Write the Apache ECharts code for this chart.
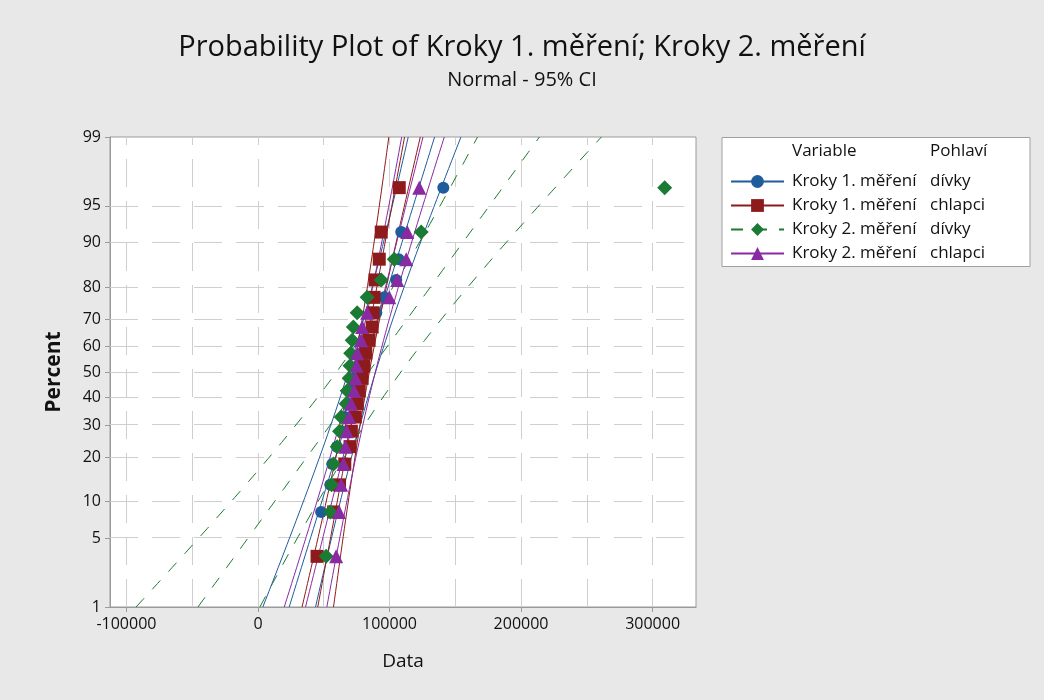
<!DOCTYPE html>
<html><head><meta charset="utf-8">
<script src="https://cdn.jsdelivr.net/npm/echarts@6/dist/echarts.min.js"></script>
<style>html,body{margin:0;padding:0;background:#e8e8e8}#c{width:1044px;height:700px}</style>
</head><body><div id="c"></div>
<script>
// ---- axis ticks ----
const percentTicks = [1, 5, 10, 20, 30, 40, 50, 60, 70, 80, 90, 95, 99];
const dataTicks = [-100000, 0, 100000, 200000, 300000];
const dataGrid = [-100000, -50000, 0, 50000, 100000, 150000, 200000, 250000, 300000];

// ---- plotting positions (percent) of the 20 ranked points ----
const plotPercents = [3.4, 8.3, 13.2, 18.1, 23.0, 27.9, 32.8, 37.7, 42.6, 47.5,
                      52.5, 57.4, 62.3, 67.2, 72.1, 77.0, 81.9, 86.8, 91.7, 96.6];

// ---- variables / groups ----
const variables = ['Kroky 1. měření', 'Kroky 1. měření', 'Kroky 2. měření', 'Kroky 2. měření'];
const genders = ['dívky', 'chlapci', 'dívky', 'chlapci'];

// ---- sorted data values (steps) ----
const kroky1Divky = [47000, 48000, 55000, 56500, 60000, 63500, 66000, 68500, 71000, 73000,
                     76000, 79000, 82000, 86500, 90000, 96000, 105100, 107000, 108900, 140900];
const kroky1Chlapci = [44900, 57500, 62000, 66000, 70000, 71000, 74000, 75500, 77000, 79200,
                       80500, 82000, 84500, 86800, 87500, 88300, 89000, 92200, 93700, 107400];
const kroky2Divky = [51800, 55000, 56000, 57500, 60200, 62000, 63200, 67000, 67800, 69300,
                     70000, 70500, 71600, 72500, 75400, 83000, 93700, 103600, 124100, 309200];
const kroky2Chlapci = [59400, 61700, 63200, 65000, 66500, 67500, 69300, 70800, 73100, 74200,
                       75000, 75400, 78400, 79200, 83000, 99800, 105900, 112700, 113500, 122600];

const allData = [kroky1Divky, kroky1Chlapci, kroky2Divky, kroky2Chlapci];
const colors = ['#1f5c9b', '#8e1b1b', '#1b7a33', '#8a2aa3'];
const symbols = ['circle', 'rect', 'diamond', 'triangle'];
const symbolSizes = [12, 13, 15, 14];
const lineTypes = ['solid', 'solid', [12, 12], 'solid'];

// inverse standard normal CDF (axis transform)
function probit(p) {
  const a = [-3.969683028665376e+01, 2.209460984245205e+02, -2.759285104469687e+02, 1.383577518672690e+02, -3.066479806614716e+01, 2.506628277459239e+00];
  const b = [-5.447609879822406e+01, 1.615858368580409e+02, -1.556989798598866e+02, 6.680131188771972e+01, -1.328068155288572e+01];
  const c = [-7.784894002430293e-03, -3.223964580411365e-01, -2.400758277161838e+00, -2.549732539343734e+00, 4.374664141464968e+00, 2.938163982698783e+00];
  const d = [7.784695709041462e-03, 3.224671290700398e-01, 2.445134137142996e+00, 3.754408661907416e+00];
  const pl = 0.02425, ph = 1 - pl;
  let q, r;
  if (p < pl) { q = Math.sqrt(-2 * Math.log(p));
    return (((((c[0]*q+c[1])*q+c[2])*q+c[3])*q+c[4])*q+c[5]) / ((((d[0]*q+d[1])*q+d[2])*q+d[3])*q+1); }
  if (p > ph) { q = Math.sqrt(-2 * Math.log(1 - p));
    return -(((((c[0]*q+c[1])*q+c[2])*q+c[3])*q+c[4])*q+c[5]) / ((((d[0]*q+d[1])*q+d[2])*q+d[3])*q+1); }
  q = p - 0.5; r = q * q;
  return (((((a[0]*r+a[1])*r+a[2])*r+a[3])*r+a[4])*r+a[5])*q / (((((b[0]*r+b[1])*r+b[2])*r+b[3])*r+b[4])*r+1);
}
const zOf = pct => probit(pct / 100);
const zMin = zOf(1), zMax = zOf(99);
const zTicks = percentTicks.map(zOf);

const series = [];
const curveZ = [];
for (let k = 0; k <= 60; k++) curveZ.push(zMin + (zMax - zMin) * k / 60);

allData.forEach((vals, i) => {
  const name = variables[i] + '|' + genders[i];
  const n = vals.length;
  const mean = vals.reduce((s, v) => s + v, 0) / n;
  const sd = Math.sqrt(vals.reduce((s, v) => s + (v - mean) ** 2, 0) / (n - 1));
  const fit = curveZ.map(z => [mean + z * sd, z]);
  const lo = curveZ.map(z => [mean + z * sd - 1.96 * sd * Math.sqrt(1 / n + z * z / (2 * n)), z]);
  const hi = curveZ.map(z => [mean + z * sd + 1.96 * sd * Math.sqrt(1 / n + z * z / (2 * n)), z]);
  const lineCommon = {
    type: 'line', name: name, showSymbol: false, symbol: symbols[i], symbolSize: symbolSizes[i],
    lineStyle: { color: colors[i], width: 1, type: lineTypes[i] }, itemStyle: { color: colors[i] },
    silent: true, z: 2, animation: false
  };
  series.push(Object.assign({}, lineCommon, { data: fit }));
  series.push(Object.assign({}, lineCommon, { data: lo }));
  series.push(Object.assign({}, lineCommon, { data: hi }));
  series.push({
    type: 'scatter', name: name, symbol: symbols[i], symbolSize: symbolSizes[i],
    itemStyle: { color: colors[i], opacity: 1 }, z: 4, animation: false,
    data: vals.map((v, j) => [v, zOf(plotPercents[j])])
  });
});

// gridlines
const gridLineStyle = { color: '#cfcfcf', width: 1, type: [28, 14] };
series.unshift({
  type: 'line', name: 'grid', data: [], silent: true, animation: false,
  markLine: {
    silent: true, symbol: 'none', z: 1, animation: false, label: { show: false },
    lineStyle: gridLineStyle,
    data: dataGrid.map(v => ({ xAxis: v })).concat(zTicks.slice(1, -1).map(z => ({ yAxis: z })))
  }
});

const legendNames = variables.map((v, i) => v + '|' + genders[i]);
const fontFam = '"Open Sans", "Noto Sans", sans-serif';
const txt = '#111111';

const option = {
  backgroundColor: '#e8e8e8',
  animation: false,
  textStyle: { fontFamily: fontFam },
  title: {
    text: 'Probability Plot of Kroky 1. měření; Kroky 2. měření',
    subtext: 'Normal - 95% CI',
    left: 'center', top: 28, itemGap: 8,
    textStyle: { fontFamily: fontFam, fontSize: 29, fontWeight: 'normal', color: txt },
    subtextStyle: { fontFamily: fontFam, fontSize: 20, color: txt }
  },
  grid: { left: 110, top: 137, width: 586, height: 470, show: true, backgroundColor: '#ffffff',
          borderColor: '#9a9a9a', borderWidth: 1, containLabel: false },
  xAxis: {
    type: 'value', min: -112500, max: 333000,
    name: 'Data', nameLocation: 'middle', nameGap: 45,
    nameTextStyle: { fontFamily: fontFam, fontSize: 19, color: txt },
    axisLine: { show: true, onZero: false, lineStyle: { color: '#9a9a9a' } },
    axisTick: { show: true, length: 5, customValues: dataTicks, lineStyle: { color: '#9a9a9a' } },
    axisLabel: { customValues: dataTicks, fontSize: 16, color: txt, margin: 9,
                 formatter: v => String(v) },
    splitLine: { show: false }
  },
  yAxis: {
    type: 'value', min: zMin, max: zMax,
    name: 'Percent', nameLocation: 'middle', nameGap: 45, nameRotate: 90,
    nameTextStyle: { fontFamily: fontFam, fontSize: 21, fontWeight: 'bold', color: txt },
    axisLine: { show: true, onZero: false, lineStyle: { color: '#9a9a9a' } },
    axisTick: { show: true, length: 5, customValues: zTicks, lineStyle: { color: '#9a9a9a' } },
    axisLabel: { customValues: zTicks, fontSize: 16, color: txt, margin: 9,
                 formatter: v => {
                   let best = 0;
                   zTicks.forEach((z, i) => { if (Math.abs(z - v) < Math.abs(zTicks[best] - v)) best = i; });
                   return String(percentTicks[best]);
                 } },
    splitLine: { show: false }
  },
  legend: {
    orient: 'vertical', left: 725, top: 168, itemWidth: 53, itemHeight: 16, itemGap: 7,
    data: legendNames, selectedMode: false,
    formatter: name => { const p = name.split('|'); return '{a|' + p[0] + '}{b|' + p[1] + '}'; },
    textStyle: {
      fontFamily: fontFam, fontSize: 17, color: txt,
      rich: {
        a: { fontFamily: fontFam, fontSize: 17, color: txt, width: 138, padding: [0, 0, 0, 3], lineHeight: 17 },
        b: { fontFamily: fontFam, fontSize: 17, color: txt, lineHeight: 17 }
      }
    }
  },
  graphic: [
    { type: 'rect', z: -1, shape: { x: 722, y: 137.5, width: 308, height: 129 },
      style: { fill: '#ffffff', stroke: '#a0a0a0', lineWidth: 1 } },
    { type: 'text', left: 792, top: 143, style: { text: 'Variable', font: '17px ' + fontFam, fill: txt } },
    { type: 'text', left: 930, top: 143, style: { text: 'Pohlaví', font: '17px ' + fontFam, fill: txt } }
  ],
  series: series
};
const chart = echarts.init(document.getElementById('c'), null, { renderer: 'canvas' });
chart.setOption(option);
</script></body></html>
